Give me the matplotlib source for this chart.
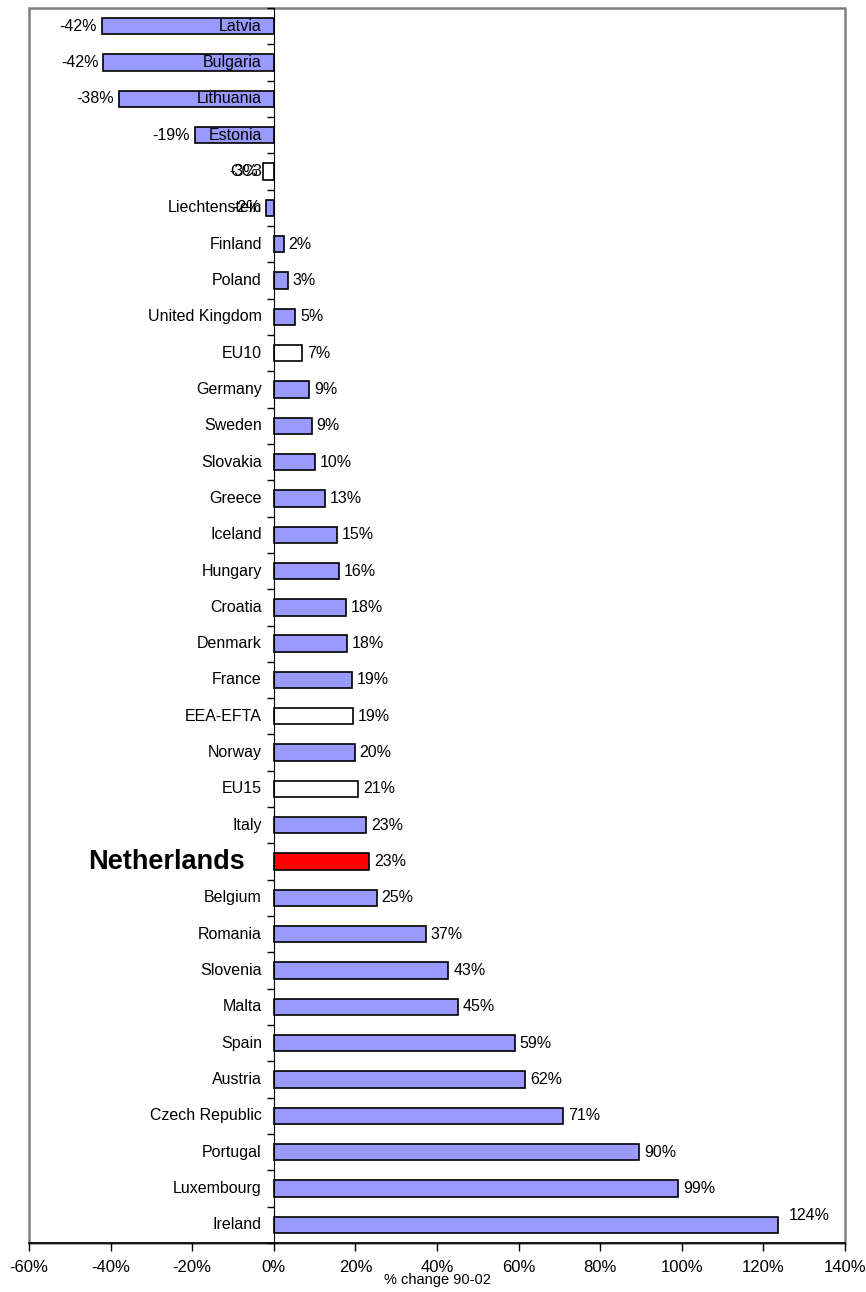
import numpy as np
import matplotlib.pyplot as plt
from matplotlib.patches import Rectangle

countries = ['Latvia', 'Bulgaria', 'Lithuania', 'Estonia', 'CC3', 'Liechtenstein',
             'Finland', 'Poland', 'United Kingdom', 'EU10', 'Germany', 'Sweden',
             'Slovakia', 'Greece', 'Iceland', 'Hungary', 'Croatia', 'Denmark',
             'France', 'EEA-EFTA', 'Norway', 'EU15', 'Italy', 'Netherlands',
             'Belgium', 'Romania', 'Slovenia', 'Malta', 'Spain', 'Austria',
             'Czech Republic', 'Portugal', 'Luxembourg', 'Ireland']
change = [-42.2, -41.8, -38.0, -19.4, -2.6, -2.0,
          2.4, 3.4, 5.3, 7.0, 8.6, 9.3,
          10.1, 12.6, 15.4, 16.0, 17.7, 18.0,
          19.1, 19.3, 19.8, 20.6, 22.6, 23.4,
          25.2, 37.2, 42.8, 45.1, 59.0, 61.6,
          70.8, 89.5, 99.1, 123.7]
aggregates = ['CC3', 'EU10', 'EEA-EFTA', 'EU15']
highlight = 'Netherlands'
xticks = [-60, -40, -20, 0, 20, 40, 60, 80, 100, 120, 140]

plt.rcParams['font.family'] = ['Liberation Sans', 'DejaVu Sans']

fig = plt.figure(figsize=(8.66, 12.92), dpi=100)
ax = fig.add_axes([29/866, 49/1292, (845-29)/866, (1243-8)/1292])

colours = []
for c in countries:
    if c == highlight:
        colours.append('#ff0000')
    elif c in aggregates:
        colours.append('white')
    else:
        colours.append('#9999ff')

y = np.arange(len(countries))
ax.barh(y, change, height=0.45, color=colours, edgecolor='black', lw=1.2, zorder=3)

for yi, c, v in zip(y, countries, change):
    lab = '%d%%' % round(v)
    if c == highlight:
        ax.text(-7.0, yi, c, ha='right', va='center', fontsize=19.5, fontweight='bold')
    else:
        ax.annotate(c, (0, yi), xytext=(-12, 0), textcoords='offset pixels',
                    ha='right', va='center', fontsize=11.5)
    if c == 'Ireland':
        ax.annotate(lab, (v, yi), xytext=(10, 9), textcoords='offset pixels',
                    ha='left', va='center', fontsize=11.5)
    elif v >= 0:
        ax.annotate(lab, (v, yi), xytext=(5, 0), textcoords='offset pixels',
                    ha='left', va='center', fontsize=11.5)
    else:
        ax.annotate(lab, (v, yi), xytext=(-5, 0), textcoords='offset pixels',
                    ha='right', va='center', fontsize=11.5)

ax.set_xlim(-60, 140)
ax.set_ylim(len(countries) - 0.5, -0.5)
ax.set_xticks(xticks)
ax.set_xticklabels(['%d%%' % t for t in xticks], fontsize=12)
ax.set_xlabel('% change 90-02', fontsize=10.5, labelpad=-1)

ax.set_yticks(np.arange(len(countries) + 1) - 0.5)
ax.set_yticklabels([])
ax.spines['left'].set_position(('data', 0))
ax.spines['left'].set_zorder(4)
ax.spines['top'].set_visible(False)
ax.spines['right'].set_visible(False)
ax.tick_params(axis='y', direction='out', length=5, width=1)
ax.tick_params(axis='x', direction='out', length=6, width=1, pad=6)
ax.spines['bottom'].set_linewidth(1.2)

ax.add_patch(Rectangle((0, 0), 1, 1, transform=ax.transAxes, fill=False,
                       edgecolor='#808080', lw=1.8, zorder=1, clip_on=False))

fig.savefig('out.png', dpi=100)
